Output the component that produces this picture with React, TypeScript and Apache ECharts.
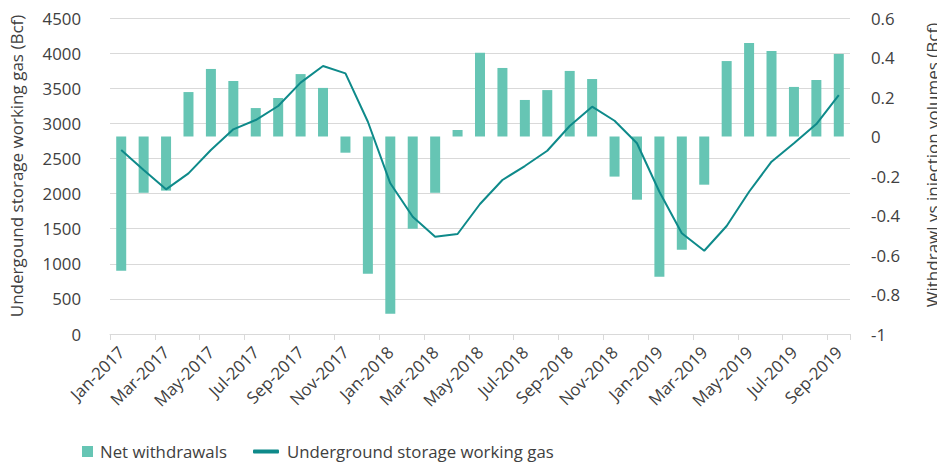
import React, { useEffect, useRef } from "react";
import * as echarts from "echarts";

const months = [
  "Jan-2017","Feb-2017","Mar-2017","Apr-2017","May-2017","Jun-2017","Jul-2017","Aug-2017","Sep-2017","Oct-2017","Nov-2017","Dec-2017",
  "Jan-2018","Feb-2018","Mar-2018","Apr-2018","May-2018","Jun-2018","Jul-2018","Aug-2018","Sep-2018","Oct-2018","Nov-2018","Dec-2018",
  "Jan-2019","Feb-2019","Mar-2019","Apr-2019","May-2019","Jun-2019","Jul-2019","Aug-2019","Sep-2019",
];

const netWithdrawals = [
  -0.68, -0.285, -0.274, 0.225, 0.342, 0.281, 0.144, 0.195, 0.316, 0.246, -0.082, -0.695,
  -0.897, -0.467, -0.285, 0.033, 0.424, 0.347, 0.185, 0.235, 0.332, 0.291, -0.203, -0.32,
  -0.71, -0.573, -0.244, 0.382, 0.473, 0.433, 0.251, 0.286, 0.418,
];

const workingGas = [
  2620, 2335, 2060, 2288, 2620, 2915, 3047, 3247, 3579, 3816, 3712, 3023,
  2146, 1670, 1386, 1424, 1851, 2193, 2392, 2610, 2962, 3237, 3037, 2716,
  2026, 1434, 1186, 1538, 2026, 2454, 2716, 2990, 3403,
];

const leftAxisName = "Undergound storage working gas (Bcf)";
const rightAxisName = "Withdrawl vs injection volumes (Bcf)";

const FONT = "'Open Sans', 'Noto Sans', sans-serif";
const TEXT = "#404040";
const BAR = "#66c5b4";
const LINE = "#0e8a8a";
const FS = 16.8;
const NAME_FS = 17;

export default function App() {
  const ref = useRef<HTMLDivElement>(null);
  useEffect(() => {
    if (!ref.current) return;
    const chart = echarts.init(ref.current, undefined, { renderer: "svg" });
    chart.setOption({
      animation: false,
      textStyle: { fontFamily: FONT, color: TEXT },
      grid: { left: 110, right: 95, top: 18, bottom: 130, outerBoundsMode: "none", containLabel: false },
      graphic: [
        {
          type: "text",
          x: 16,
          y: 166,
          rotation: Math.PI / 2,
          style: {
            text: leftAxisName,
            fill: TEXT,
            font: `${NAME_FS}px ${FONT}`,
            align: "center",
            verticalAlign: "middle",
          },
        },
        {
          type: "text",
          x: 932,
          y: 165,
          rotation: Math.PI / 2,
          style: {
            text: rightAxisName,
            fill: TEXT,
            font: `${NAME_FS}px ${FONT}`,
            align: "center",
            verticalAlign: "middle",
          },
        },
      ],
      legend: [
        {
          left: 77,
          top: 438,
          itemWidth: 11,
          itemHeight: 11,
          textStyle: { fontFamily: FONT, fontSize: FS, color: TEXT, padding: [0, 0, 0, 2] },
          data: [{ name: "Net withdrawals", icon: "rect", itemStyle: { color: BAR } }],
        },
        {
          left: 248,
          top: 438,
          itemWidth: 26,
          itemHeight: 4,
          textStyle: { fontFamily: FONT, fontSize: FS, color: TEXT, padding: [0, 0, 0, 3] },
          data: [
            {
              name: "Underground storage working gas",
              icon: "roundRect",
              itemStyle: { color: LINE, borderWidth: 0 },
            },
          ],
        },
      ],
      xAxis: {
        type: "category",
        data: months,
        axisLine: { lineStyle: { color: "#d9d9d9", width: 1 } },
        axisTick: { show: true, interval: 1, length: 6, lineStyle: { color: "#d9d9d9" } },
        axisLabel: {
          interval: 1,
          rotate: 45,
          fontSize: FS,
          color: TEXT,
          fontFamily: FONT,
          margin: 15,
        },
      },
      yAxis: [
        {
          type: "value",
          min: 0,
          max: 4500,
          interval: 500,
          axisLine: { show: false },
          axisTick: { show: false },
          axisLabel: {
            fontSize: FS,
            color: TEXT,
            fontFamily: FONT,
            margin: 29,
            formatter: (v: number) => String(v),
          },
          splitLine: { lineStyle: { color: "#d9d9d9", width: 1 } },
        },
        {
          type: "value",
          min: -1,
          max: 0.6,
          interval: 0.2,
          axisLine: { show: false },
          axisTick: { show: false },
          axisLabel: {
            fontSize: FS,
            color: TEXT,
            fontFamily: FONT,
            margin: 21,
            formatter: (v: number) => String(parseFloat(v.toFixed(1))),
          },
          splitLine: { show: false },
        },
      ],
      series: [
        {
          name: "Net withdrawals",
          type: "bar",
          yAxisIndex: 1,
          data: netWithdrawals,
          barWidth: 10,
          itemStyle: { color: BAR },
        },
        {
          name: "Underground storage working gas",
          type: "line",
          yAxisIndex: 0,
          data: workingGas,
          showSymbol: false,
          symbol: "none",
          lineStyle: { color: LINE, width: 2 },
          itemStyle: { color: LINE },
        },
      ],
    });
    return () => chart.dispose();
  }, []);
  return <div ref={ref} style={{ width: 945, height: 464, marginLeft: -8, marginTop: -8 }} />;
}
